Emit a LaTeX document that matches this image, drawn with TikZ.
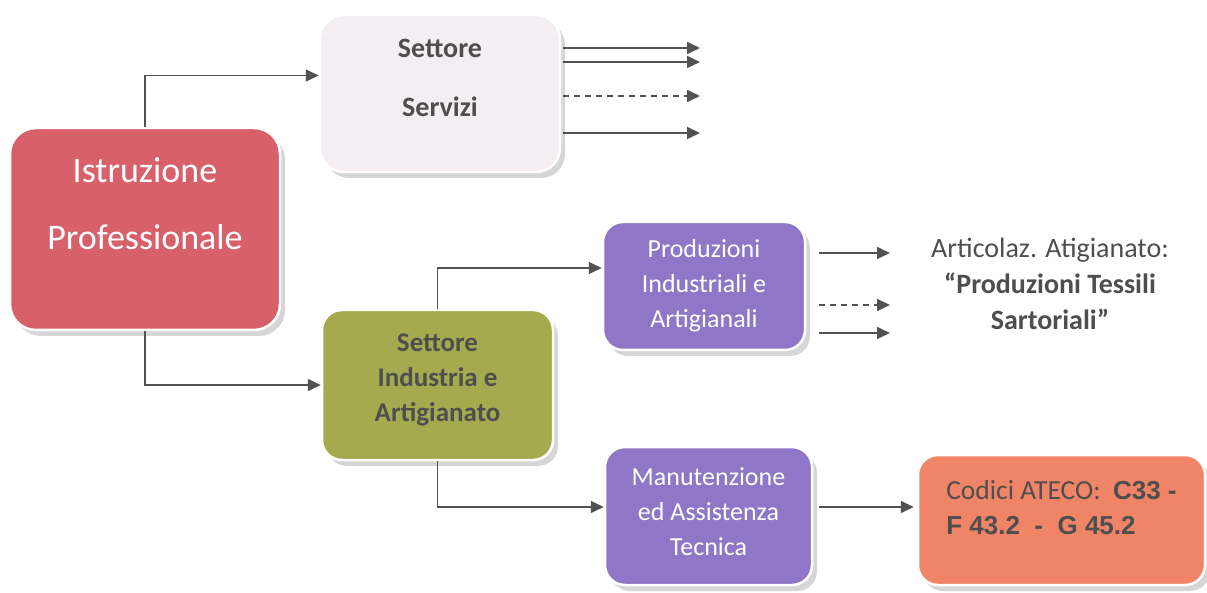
\documentclass[tikz,border=0pt]{standalone}
\usepackage{fontspec}
\setmainfont{Carlito}
\newfontfamily\arialbold[BoldFont={* Bold}]{Liberation Sans}
\usetikzlibrary{arrows.meta,shadows}
\definecolor{istrred}{RGB}{216,96,106}
\definecolor{servpink}{RGB}{244,237,241}
\definecolor{indgreen}{RGB}{166,170,78}
\definecolor{prodviolet}{RGB}{143,118,198}
\definecolor{codsalmon}{RGB}{240,132,102}
\definecolor{textgray}{RGB}{78,78,78}
\definecolor{linegray}{RGB}{82,82,82}
\newcommand{\codbold}[1]{{\arialbold\bfseries\fontsize{26}{35}\selectfont #1}}
\begin{document}
\begin{tikzpicture}[x=1pt,y=-1pt,
    box/.style={rectangle,rounded corners=20pt,align=center,draw=white,line width=2.5pt,
      drop shadow={shadow xshift=5pt,shadow yshift=-6pt,fill=black!40,opacity=.4}},
    conn/.style={draw=linegray,line width=1.6pt,-{Triangle[length=13pt,width=12pt]}}]
  \useasboundingbox (0,0) rectangle (1207,593);
  \draw
    (145,229) node[box,fill=istrred,text=white,minimum width=270,minimum height=202,
      rounded corners=26pt,text depth=50pt,font=\fontsize{36}{67}\selectfont] (istr)
      {Istruzione\\Professionale}
    (440,93.5) node[box,fill=servpink,text=textgray,minimum width=240,minimum height=157,
      rounded corners=24pt,text depth=32pt,font=\bfseries\fontsize{28}{59}\selectfont] (serv)
      {Settore\\Servizi}
    (437.5,385) node[box,fill=indgreen,text=textgray,minimum width=231,minimum height=150,
      text depth=14pt,font=\bfseries\fontsize{27}{35}\selectfont] (ind)
      {Settore\\Industria e\\Artigianato}
    (704,286) node[box,fill=prodviolet,text=white,minimum width=202,minimum height=128,
      font=\fontsize{26}{35}\selectfont] (prod)
      {Produzioni\\Industriali e\\Artigianali}
    (708.5,516) node[box,fill=prodviolet,text=white,minimum width=207,minimum height=138,
      text depth=9pt,font=\fontsize{26}{35}\selectfont] (man)
      {Manutenzione\\ed Assistenza\\Tecnica}
    (1061.5,520) node[box,fill=codsalmon,text=textgray,minimum width=287,minimum height=130,
      align=left,text depth=26pt,font=\fontsize{27.5}{35}\selectfont] (cod)
      {Codici ATECO:\ \ \codbold{C33 -}\\\codbold{F 43.2\ \ - \ G 45.2}}
    (1050,284) node[text=textgray,align=center,font=\fontsize{28}{36}\selectfont] (artic)
      {Articolaz. Atigianato:\\\textbf{“Produzioni Tessili}\\\textbf{Sartoriali”}};
  \coordinate (s1) at (700,48);
  \coordinate (s2) at (700,62);
  \coordinate (s3) at (700,96);
  \coordinate (s4) at (700,133);
  \coordinate (p1) at (890,253);
  \coordinate (p2) at (890,305);
  \coordinate (p3) at (890,333);
  \begin{scope}[conn]
    \draw (istr.north) |- ([yshift=18pt]serv.west);
    \draw (istr.south) |- (ind.west);
    \draw (ind.north) |- ([yshift=18pt]prod.west);
    \draw (ind.south) |- ([yshift=9pt]man.west);
    \draw[shorten <=6pt,shorten >=3pt] ([yshift=9pt]man.east) -- ([yshift=9pt]man.east -| cod.west);
    \draw[shorten <=2pt] (serv.east |- s1) -- (s1);
    \draw[shorten <=2pt] (serv.east |- s2) -- (s2);
    \draw[shorten <=2pt,dash pattern=on 6pt off 5pt] (serv.east |- s3) -- (s3);
    \draw[shorten <=2pt] (serv.east |- s4) -- (s4);
    \draw[shorten <=13pt] (prod.east |- p1) -- (p1);
    \draw[shorten <=13pt,dash pattern=on 6pt off 5pt] (prod.east |- p2) -- (p2);
    \draw[shorten <=13pt] (prod.east |- p3) -- (p3);
  \end{scope}
\end{tikzpicture}
\end{document}
